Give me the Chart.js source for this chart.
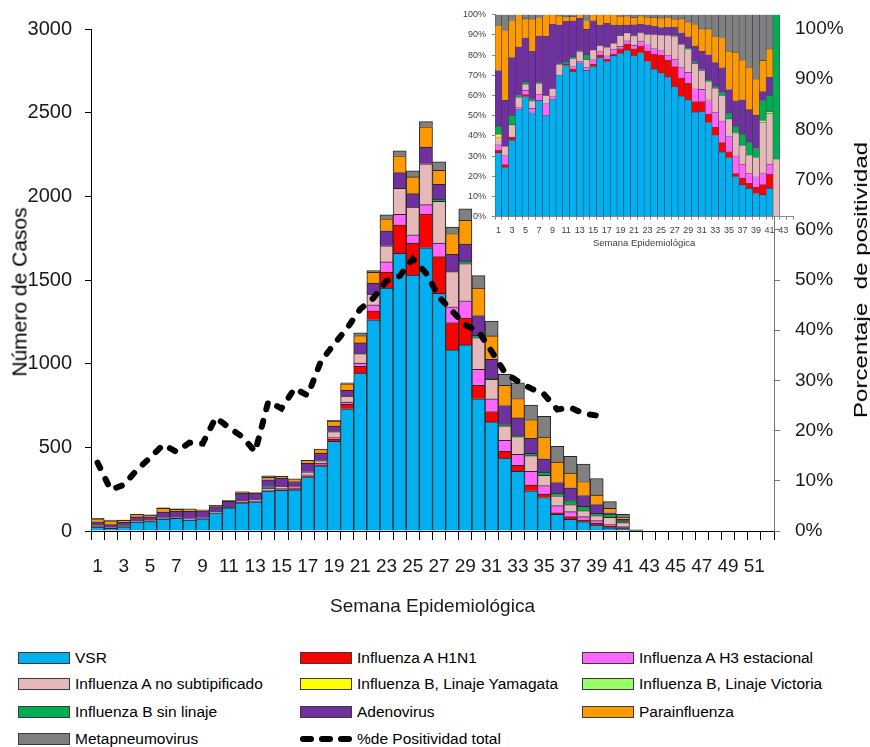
<!DOCTYPE html>
<html>
<head>
<meta charset="utf-8">
<script src="https://cdn.jsdelivr.net/npm/chart.js@4.4.1/dist/chart.umd.min.js"></script>
<style>
html, body { margin: 0; padding: 0; background: #fff; }
#wrap { position: relative; width: 870px; height: 747px; overflow: hidden; font-family: "Liberation Sans", Arial, sans-serif; }
#main { position: absolute; left: 0; top: 0; }
#insetBox { position: absolute; left: 460px; top: 0; width: 337px; height: 252px; overflow: hidden; }
.vt { position: absolute; width: 0; height: 0; }
.vt span { position: absolute; left: 0; top: 0; white-space: nowrap; color: #000; line-height: 1; }
.item { position: absolute; display: flex; align-items: center; height: 20px; font-size: 15.5px; color: #000; white-space: nowrap; }
.sw { width: 52px; height: 12px; box-sizing: border-box; border: 1.5px solid #3a3a3a; margin-right: 5px; }
.dash { width: 52px; height: 6px; margin-right: 5px; display: flex; justify-content: space-between; }
.dash i { display: block; width: 14px; height: 6px; border-radius: 3px; background: #000; }
</style>
</head>
<body>
<div id="wrap">
  <canvas id="main" width="870" height="640"></canvas>
  <div id="insetBox"><canvas id="inset" width="337" height="252"></canvas></div>
  <div class="vt" style="left:19px; top:292px;"><span id="ytitle" style="font-size:21px; transform: translate(-50%,-50%) rotate(-90deg);">Número de Casos</span></div>
  <div class="vt" style="left:861px; top:280px;"><span id="y2title" style="font-size:18px; transform: translate(-50%,-50%) rotate(-90deg) scaleX(1.34);">Porcentaje&nbsp;&nbsp;de positividad</span></div>
  <div id="legend"></div>
</div>
<script>
// semanas epidemiologicas
const semanas = ['1','2','3','4','5','6','7','8','9','10','11','12','13','14','15','16','17','18','19','20',
  '21','22','23','24','25','26','27','28','29','30','31','32','33','34','35','36','37','38','39','40',
  '41','42','43','44','45','46','47','48','49','50','51','52'];

// casos por semana
const vsr = [24,16,25,53,57,71,76,66,73,108,138,168,175,239,243,246,324,390,536,730,944,1262,1452,1660,1530,1692,1420,1082,1112,790,652,436,356,240,200,100,70,56,36,19,14,0,0,0,0,0,0,0,0,0,0,0];
const h1n1 = [1,1,1,0,1,0,0,0,0,0,1,3,0,0,3,4,5,5,14,27,40,54,96,170,190,202,220,164,160,80,62,40,36,36,20,8,16,10,10,9,7,0,0,0,0,0,0,0,0,0,0,0];
const h3 = [2,3,0,1,2,3,4,8,2,0,0,3,2,5,7,5,7,11,8,14,20,36,60,62,50,56,80,94,104,96,76,66,66,80,52,44,30,20,16,10,5,0,0,0,0,0,0,0,0,0,0,0];
const aNoSub = [3,3,4,5,3,5,7,5,5,8,0,9,11,13,16,9,18,15,36,35,56,64,96,156,166,244,250,210,222,190,116,86,106,94,60,58,42,36,30,44,25,2,0,0,0,0,0,0,0,0,0,0];
const yamagata = [1,0,0,0,0,0,0,0,0,0,0,0,0,0,0,0,0,0,0,0,0,0,0,0,0,0,0,0,0,0,0,0,0,0,0,0,0,0,0,0,0,0,0,0,0,0,0,0,0,0,0,0];
const victoria = [0,0,0,0,0,0,0,0,0,0,0,0,0,0,0,0,0,0,0,0,0,0,0,0,0,0,0,0,0,0,0,0,0,0,0,0,0,0,0,2,1,0,0,0,0,0,0,0,0,0,0,0];
const bSinLinaje = [3,0,3,1,1,1,1,0,0,1,2,2,1,7,0,0,0,0,0,0,0,0,0,0,0,0,14,0,16,14,8,8,8,14,20,16,24,26,14,17,8,5,0,0,0,0,0,0,0,0,0,0];
const adeno = [21,15,19,24,21,33,30,39,40,29,37,42,37,42,47,32,50,44,33,34,64,66,90,94,80,100,88,104,100,118,112,114,104,90,80,64,76,64,52,8,9,0,0,0,0,0,0,0,0,0,0,0];
const para = [17,23,12,16,9,22,12,14,6,7,4,5,4,14,10,16,18,25,30,40,44,64,72,100,100,122,84,124,142,164,140,120,116,112,130,122,88,84,56,27,14,0,0,0,0,0,0,0,0,0,0,0];
const metap = [4,5,2,0,2,3,2,0,0,1,2,2,0,10,0,0,0,0,5,6,16,10,24,30,36,30,50,38,70,74,88,66,94,86,124,94,100,104,100,40,17,0,0,0,0,0,0,0,0,0,0,0];

// % de positividad total
const positividad = [13.6,8.2,9.2,12.2,14.6,17.2,15.8,17.6,17.4,22.6,20.6,18.8,15.8,25.8,24.4,28.4,27.0,33.8,37.2,40.4,44.2,46.4,49.8,50.8,54.2,51.4,46.6,43.8,41.0,39.8,35.8,31.6,29.8,28.4,27.2,24.2,24.6,23.4,23.0,
  null,null,null,null,null,null,null,null,null,null,null,null,null];

const series = [
  { label: 'VSR', data: vsr, color: '#00B0F0' },
  { label: 'Influenza A H1N1', data: h1n1, color: '#FF0000' },
  { label: 'Influenza A H3 estacional', data: h3, color: '#FF66FF' },
  { label: 'Influenza A no subtipificado', data: aNoSub, color: '#E6B9B8' },
  { label: 'Influenza B, Linaje Yamagata', data: yamagata, color: '#FFFF00' },
  { label: 'Influenza B, Linaje Victoria', data: victoria, color: '#99FF66' },
  { label: 'Influenza B sin linaje', data: bSinLinaje, color: '#00B050' },
  { label: 'Adenovirus', data: adeno, color: '#7030A0' },
  { label: 'Parainfluenza', data: para, color: '#FF9900' },
  { label: 'Metapneumovirus', data: metap, color: '#808080' }
];

Chart.defaults.font.family = '"Liberation Sans", Arial, sans-serif';
Chart.defaults.color = '#1a1a1a';

const mainDatasets = series.map(s => ({
  type: 'bar',
  label: s.label,
  data: s.data,
  backgroundColor: s.color,
  borderColor: '#262626',
  borderWidth: 1,
  barPercentage: 1,
  categoryPercentage: 1,
  yAxisID: 'y',
  stack: 'casos',
  order: 2
}));
mainDatasets.push({
  type: 'line',
  label: '%de Positividad total',
  data: positividad,
  yAxisID: 'y2',
  borderColor: '#000',
  borderWidth: 6,
  borderDash: [6, 12],
  borderCapStyle: 'round',
  pointRadius: 0,
  tension: 0,
  fill: false,
  order: 1
});

new Chart(document.getElementById('main'), {
  type: 'bar',
  data: { labels: semanas, datasets: mainDatasets },
  options: {
    responsive: false,
    animation: false,
    layout: { padding: { top: 29, left: 0, right: 0, bottom: 0 } },
    plugins: { legend: { display: false }, tooltip: { enabled: false } },
    scales: {
      x: {
        stacked: true,
        offset: true,
        grid: { offset: true, drawOnChartArea: false, drawTicks: true, tickLength: 9, color: '#000' },
        border: { color: '#000', width: 1 },
        ticks: {
          autoSkip: false, maxRotation: 0, padding: 15, font: { size: 19 },
          callback: (v, i) => (i % 2 === 0 ? semanas[i] : '')
        },
        title: { display: true, text: 'Semana Epidemiológica', font: { size: 19 }, padding: { top: 0, bottom: 22 } },
        afterFit: s => { s.height = 109; }
      },
      y: {
        stacked: true,
        min: 0, max: 3000,
        ticks: { stepSize: 500, padding: 13, font: { size: 20 }, callback: v => String(v) },
        grid: { drawOnChartArea: false, tickLength: 6, color: '#000' },
        border: { color: '#000' },
        afterFit: s => { s.width = 91; }
      },
      y2: {
        position: 'right',
        min: 0, max: 100,
        ticks: { stepSize: 10, padding: 15, font: { size: 19 }, callback: v => v + '%' },
        grid: { drawOnChartArea: false, tickLength: 6, color: '#777' },
        border: { color: '#777' },
        afterFit: s => { s.width = 96; }
      }
    }
  }
});

// recuadro: distribucion porcentual por semana (1-44)
const insetWeeks = semanas.slice(0, 44);
const totales = insetWeeks.map((w, i) => series.reduce((a, s) => a + s.data[i], 0));
const whitePlot = {
  id: 'whitePlot',
  beforeDraw(chart) {
    const a = chart.chartArea;
    chart.ctx.save();
    chart.ctx.fillStyle = '#fff';
    chart.ctx.fillRect(a.left, a.top, a.right - a.left, a.bottom - a.top);
    chart.ctx.restore();
  }
};

new Chart(document.getElementById('inset'), {
  type: 'bar',
  data: {
    labels: insetWeeks,
    datasets: series.map(s => ({
      label: s.label,
      data: insetWeeks.map((w, i) => (totales[i] ? s.data[i] / totales[i] * 100 : 0)),
      backgroundColor: s.color,
      borderColor: 'rgba(20,20,50,0.75)',
      borderWidth: 0.6,
      barPercentage: 1,
      categoryPercentage: 1
    }))
  },
  options: {
    responsive: false,
    animation: false,
    layout: { padding: { top: 14.7, right: 3.7, left: 0, bottom: 0 } },
    plugins: { legend: { display: false }, tooltip: { enabled: false } },
    scales: {
      x: {
        stacked: true,
        grid: { offset: true, drawOnChartArea: false, tickLength: 3, color: '#888' },
        border: { color: '#888' },
        ticks: {
          autoSkip: false, maxRotation: 0, padding: 5, color: '#404040', font: { size: 9 },
          callback: (v, i) => (i % 2 === 0 ? insetWeeks[i] : '')
        },
        title: { display: true, text: 'Semana Epidemiológica', color: '#404040', font: { size: 9.5 }, padding: { top: 0, bottom: 3 } },
        afterFit: s => { s.height = 35.3; }
      },
      y: {
        stacked: true,
        min: 0, max: 100,
        ticks: { stepSize: 10, padding: 6, color: '#404040', font: { size: 9 }, callback: v => v + '%' },
        grid: { drawOnChartArea: false, tickLength: 3, color: '#888' },
        border: { color: '#888' },
        afterFit: s => { s.width = 35; }
      }
    }
  },
  plugins: [whitePlot]
});

// leyenda (3 columnas)
const legendItems = series.map(s => ({ label: s.label, color: s.color }));
legendItems.push({ label: '%de Positividad total', dashed: true });
const colX = [18, 300, 582];
const rowY = [657.5, 684, 712, 739];
const legend = document.getElementById('legend');
legendItems.forEach((it, k) => {
  const d = document.createElement('div');
  d.className = 'item';
  d.style.left = colX[k % 3] + 'px';
  d.style.top = (rowY[Math.floor(k / 3)] - 10) + 'px';
  const sw = document.createElement('div');
  if (it.dashed) {
    sw.className = 'dash';
    sw.innerHTML = '<i></i><i></i><i></i>';
  } else {
    sw.className = 'sw';
    sw.style.background = it.color;
  }
  d.appendChild(sw);
  d.appendChild(document.createTextNode(it.label));
  legend.appendChild(d);
});
</script>
</body>
</html>
